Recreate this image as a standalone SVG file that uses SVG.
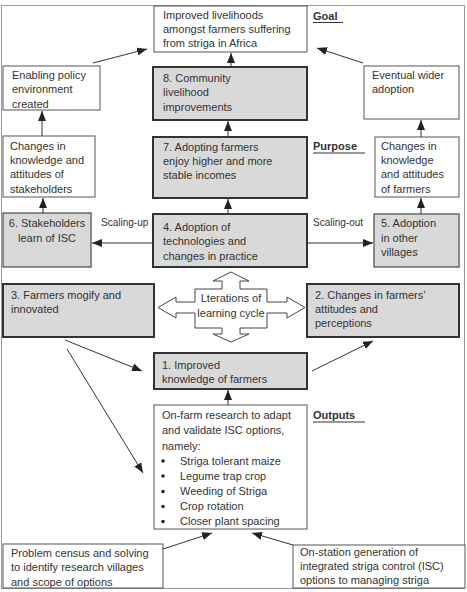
<svg xmlns="http://www.w3.org/2000/svg" width="467" height="592" viewBox="0 0 467 592">
<defs>
<marker id="ah" markerUnits="userSpaceOnUse" markerWidth="10" markerHeight="8" refX="10" refY="4" orient="auto">
<path d="M0,0 L10,4 L0,8 Z" fill="#222"/>
</marker>
<style>
text{font-family:"Liberation Sans",Arial,sans-serif;font-size:11px;fill:#333}
.lbl{font-weight:bold;font-size:11px;fill:#333}
.sc{font-size:10px}
.thin{fill:#fff;stroke:#555;stroke-width:1}
.thick{fill:#d9d9d9;stroke:#333;stroke-width:2}
.med{fill:#d9d9d9;stroke:#555;stroke-width:1.3}
.c{stroke:#333;stroke-width:1;fill:none;marker-end:url(#ah)}
.ul{stroke:#333;stroke-width:1}
</style>
</defs>
<rect x="0" y="0" width="467" height="592" fill="#fff"/>
<rect x="1.5" y="5.5" width="463" height="583" fill="none" stroke="#999" stroke-width="1"/>

<g id="goal"><rect class="thin" x="154" y="6" width="153" height="46"/>
<text x="163" y="19">Improved livelihoods</text><text x="163" y="33">amongst farmers suffering</text><text x="163" y="47">from striga in Africa</text></g>
<g id="goal-label"><text class="lbl" x="313" y="20">Goal</text><line class="ul" x1="313" y1="22.5" x2="343" y2="22.5"/></g>

<g id="enabling"><rect class="thin" x="3" y="66" width="97" height="44"/>
<text x="12" y="79">Enabling policy</text><text x="12" y="93">environment</text><text x="12" y="108">created</text></g>

<g id="n8"><rect class="thick" x="153" y="67" width="154" height="53"/>
<text x="163" y="82">8. Community</text><text x="163" y="96">livelihood</text><text x="163" y="111">improvements</text></g>

<g id="eventual"><rect class="thin" x="364" y="66" width="95" height="53"/>
<text x="372" y="79">Eventual wider</text><text x="372" y="93">adoption</text></g>

<g id="changes-stakeholders"><rect class="thin" x="3" y="136" width="92" height="61"/>
<text x="10" y="150">Changes in</text><text x="10" y="164">knowledge and</text><text x="10" y="178">attitudes of</text><text x="10" y="193">stakeholders</text></g>

<g id="n7"><rect class="thick" x="153" y="137" width="154" height="61"/>
<text x="163" y="151">7. Adopting farmers</text><text x="163" y="165">enjoy higher and more</text><text x="163" y="179">stable incomes</text></g>

<g id="purpose-label"><text class="lbl" x="313" y="150">Purpose</text><line class="ul" x1="313" y1="153" x2="365" y2="153"/></g>

<g id="changes-farmers"><rect class="thin" x="375" y="137" width="84" height="60"/>
<text x="381" y="150">Changes in</text><text x="381" y="164">knowledge</text><text x="381" y="178">and attitudes</text><text x="381" y="193">of farmers</text></g>

<g id="n6"><rect class="med" x="3" y="213" width="88" height="54"/>
<text x="47" y="227" text-anchor="middle">6. Stakeholders</text><text x="47" y="242" text-anchor="middle">learn of ISC</text></g>

<g id="n4"><rect class="thick" x="153" y="214" width="154" height="53"/>
<text x="163" y="231">4. Adoption of</text><text x="163" y="245">technologies and</text><text x="163" y="260">changes in practice</text></g>

<g id="n5"><rect class="med" x="374" y="214" width="85" height="53"/>
<text x="381" y="227">5. Adoption</text><text x="381" y="242">in other</text><text x="381" y="256">villages</text></g>

<g id="n3"><rect class="thick" x="3" y="284" width="151" height="53"/>
<text x="11" y="299">3. Farmers mogify and</text><text x="11" y="313">innovated</text></g>

<g id="n2"><rect class="thick" x="307" y="284" width="152" height="53"/>
<text x="315" y="299">2. Changes in farmers’</text><text x="315" y="313">attitudes and</text><text x="315" y="327">perceptions</text></g>

<g id="cycle"><polygon fill="#fff" stroke="#444" stroke-width="1" points="231,272 249,281 240,281 240,289 267,289 267,302 287,302 287,297 305,307.5 287,318 287,313 267,313 267,328 240,328 240,334 249,334 231,342 213,334 222,334 222,328 195,328 195,313 176,313 176,318 158,307.5 176,297 176,302 195,302 195,289 222,289 222,281 213,281"/>
<text x="231" y="302" text-anchor="middle">Lterations of</text><text x="231" y="317" text-anchor="middle">learning cycle</text></g>

<g id="n1"><rect class="thick" x="154" y="353" width="153" height="36"/>
<text x="162" y="369">1. Improved</text><text x="162" y="383">knowledge of farmers</text></g>

<g id="onfarm"><rect class="thin" x="154" y="405" width="153" height="124"/>
<text x="162" y="419">On-farm research to adapt</text><text x="162" y="434">and validate ISC options,</text><text x="162" y="449.5">namely:</text>
<g fill="#222"><circle cx="163" cy="461" r="1.8"/><circle cx="163" cy="476" r="1.8"/><circle cx="163" cy="491.5" r="1.8"/><circle cx="163" cy="506.5" r="1.8"/><circle cx="163" cy="521.5" r="1.8"/></g>
<text x="180" y="464.5">Striga tolerant maize</text><text x="180" y="480">Legume trap crop</text><text x="180" y="495">Weeding of Striga</text><text x="180" y="510">Crop rotation</text><text x="180" y="525">Closer plant spacing</text></g>

<g id="outputs-label"><text class="lbl" x="313" y="419">Outputs</text><line class="ul" x1="313" y1="422" x2="365" y2="422"/></g>

<g id="problem"><rect class="thin" x="3" y="544" width="160" height="44"/>
<text x="11" y="557">Problem census and solving</text><text x="11" y="571">to identify research villages</text><text x="11" y="585.5">and scope of options</text></g>

<g id="onstation"><rect class="thin" x="293" y="545" width="172" height="43"/>
<text x="300" y="556">On-station generation of</text><text x="300" y="570">integrated striga control (ISC)</text><text x="300" y="584">options to managing striga</text></g>

<g id="scaling"><text class="sc" x="101" y="226">Scaling-up</text><text class="sc" x="313" y="226">Scaling-out</text></g>

<g id="connectors">
<line class="c" x1="93" y1="63" x2="147" y2="49"/>
<line class="c" x1="363" y1="63" x2="317" y2="48"/>
<line class="c" x1="231" y1="67" x2="231" y2="53"/>
<line class="c" x1="42" y1="136" x2="42" y2="111"/>
<line class="c" x1="228" y1="137" x2="228" y2="121"/>
<line class="c" x1="421" y1="137" x2="421" y2="120"/>
<line class="c" x1="228" y1="214" x2="228" y2="199"/>
<line class="c" x1="43" y1="213" x2="43" y2="198"/>
<line class="c" x1="421" y1="214" x2="421" y2="198"/>
<line class="c" x1="153" y1="243" x2="92" y2="243"/>
<line class="c" x1="307" y1="243" x2="373" y2="243"/>
<line class="c" x1="65" y1="340" x2="142" y2="371"/>
<line class="c" x1="312" y1="371" x2="373" y2="341"/>
<line class="c" x1="67" y1="349" x2="143" y2="473"/>
<line class="c" x1="228" y1="405" x2="228" y2="390"/>
<line class="c" x1="163" y1="549" x2="212" y2="533"/>
<line class="c" x1="293" y1="545" x2="252" y2="533"/>
</g>
</svg>
